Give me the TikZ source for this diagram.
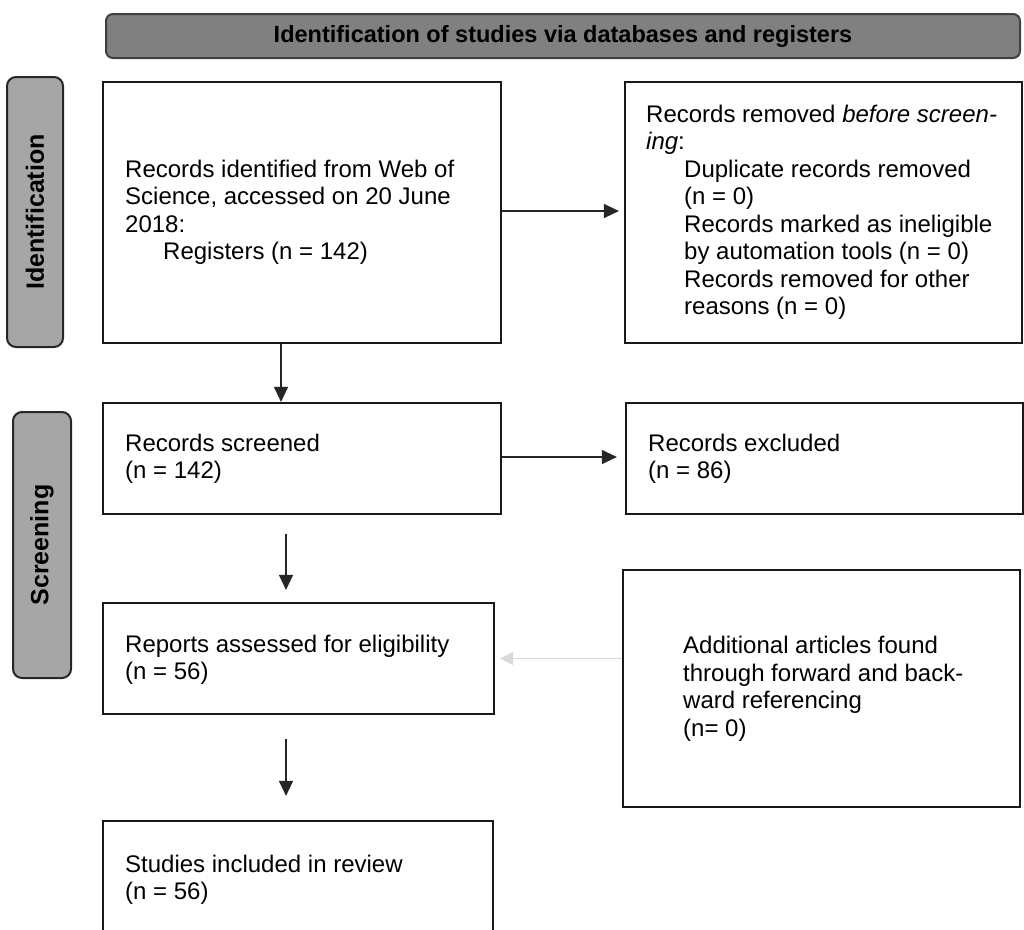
\documentclass[tikz,border=0pt]{standalone}
\usepackage{fontspec}
\setmainfont{Liberation Sans}
\usetikzlibrary{arrows.meta}
\definecolor{bannergray}{HTML}{808080}
\definecolor{sidegray}{HTML}{A6A6A6}
\definecolor{edgegray}{HTML}{262626}
\definecolor{faintarrow}{HTML}{D9D9D9}
\begin{document}
\begin{tikzpicture}[x=1pt,y=-1pt,
  every node/.style={font=\fontsize{24pt}{27.5pt}\selectfont},
  flowbox/.style={draw=black!90,line width=2.2pt,rectangle,inner sep=0pt},
  boxtext/.style={anchor=west,align=left,inner sep=0pt},
  sidebox/.style={draw=edgegray,fill=sidegray,line width=2pt,rounded corners=9pt,inner sep=0pt},
  sidelabel/.style={rotate=90,font=\fontsize{25pt}{28pt}\selectfont\bfseries},
  banner/.style={draw=black!75,fill=bannergray,line width=2pt,rounded corners=7pt,inner sep=0pt},
  flowarrow/.style={draw=black!85,line width=1.3pt,-{Triangle[length=15pt,width=14pt]}},
  faintflow/.style={draw=faintarrow,line width=1.3pt,-{Triangle[length=13pt,width=13pt,fill=faintarrow]}}
]
\useasboundingbox (0,0) rectangle (1024,929);

% title banner
\node[banner,minimum width=914pt,minimum height=44pt,font=\fontsize{23.5pt}{27.5pt}\selectfont\bfseries] (title) at (563,36) {Identification of studies via databases and registers};

% phase labels on the left
\node[sidebox,minimum width=56pt,minimum height=270pt] (idphase) at (35,212) {};
\node[sidelabel] (idlabel) at (idphase) {Identification};
\node[sidebox,minimum width=58pt,minimum height=266pt] (scphase) at (42,545) {};
\node[sidelabel] (sclabel) at (scphase) {Screening};

% flow boxes
\node[flowbox,minimum width=398pt,minimum height=261pt] (ident) at (302,212.5) {};
\node[flowbox,minimum width=397pt,minimum height=261pt] (removed) at (823.5,212.5) {};
\node[flowbox,minimum width=398pt,minimum height=111pt] (screened) at (302,458.5) {};
\node[flowbox,minimum width=397pt,minimum height=111pt] (excluded) at (824.5,458.5) {};
\node[flowbox,minimum width=391pt,minimum height=111pt] (reports) at (298.5,658.5) {};
\node[flowbox,minimum width=397pt,minimum height=237pt] (additional) at (821.5,688.5) {};
\node[flowbox,minimum width=390pt,minimum height=130pt] (included) at (298,886) {};

% box texts
\node[boxtext] (identtxt) at (125,212.5) {Records identified from Web of\\Science, accessed on 20 June\\2018:\\\hspace*{38pt}Registers (n = 142)};
\node[boxtext] (removedtxt) at (646,212.5) {Records removed \textit{before screen-}\\\textit{ing}:\\\hspace*{38pt}Duplicate records removed\\\hspace*{38pt}(n = 0)\\\hspace*{38pt}Records marked as ineligible\\\hspace*{38pt}by automation tools (n = 0)\\\hspace*{38pt}Records removed for other\\\hspace*{38pt}reasons (n = 0)};
\node[boxtext] (screenedtxt) at (125,459) {Records screened\\(n = 142)};
\node[boxtext] (excludedtxt) at (648,459) {Records excluded\\(n = 86)};
\node[boxtext] (reportstxt) at (125,660) {Reports assessed for eligibility\\(n = 56)};
\node[boxtext] (additionaltxt) at (683,689) {Additional articles found\\through forward and back-\\ward referencing\\(n= 0)};
\node[boxtext] (includedtxt) at (125,880) {Studies included in review\\(n = 56)};

% connectors
\draw[flowarrow,shorten >=5pt] ([yshift=1.5pt]ident.east) -- ([yshift=1.5pt]removed.west);
\draw[flowarrow] ([xshift=-21pt]ident.south) -- ([xshift=-21pt]screened.north);
\draw[flowarrow,shorten >=8pt] ([yshift=1.5pt]screened.east) -- ([yshift=1.5pt]excluded.west);
\draw[flowarrow,shorten <=19pt,shorten >=12pt] ([xshift=-16pt]screened.south) -- ([xshift=-16pt]screened.south |- reports.north);
\draw[flowarrow,shorten <=24pt,shorten >=24pt] ([xshift=-12.5pt]reports.south) -- ([xshift=-12.5pt]reports.south |- included.north);
\draw[faintflow,shorten >=5pt] (additional.west |- reports.east) -- (reports.east);
\end{tikzpicture}
\end{document}
